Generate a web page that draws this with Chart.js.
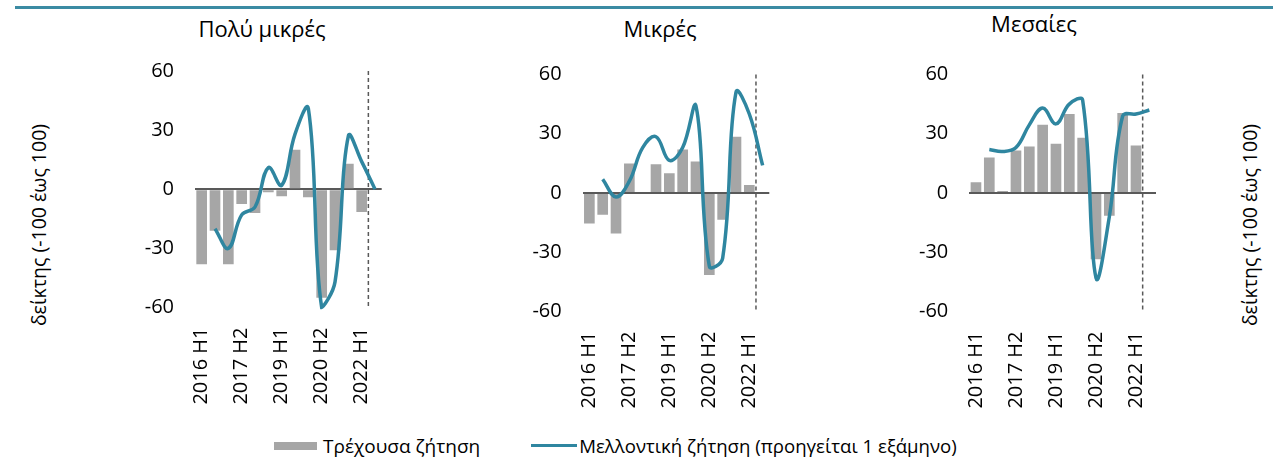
<!DOCTYPE html>
<html>
<head>
<meta charset="utf-8">
<script src="https://cdn.jsdelivr.net/npm/chart.js@4.4.1/dist/chart.umd.min.js"></script>
<style>
  body { margin: 0; width: 1273px; height: 459px; position: relative; overflow: hidden; background: #fff; font-family: "Open Sans", sans-serif; color: #000; }
  canvas { position: absolute; top: 0; }
  .rule { position: absolute; left: 15px; right: 0; top: 6px; height: 3px; background: #3b8ba3; }
  .title { position: absolute; font-size: 22px; line-height: 26px; white-space: nowrap; transform: translateX(-50%); }
  .ytitle { position: absolute; font-size: 19.5px; white-space: nowrap; transform: translate(-50%, -50%) rotate(-90deg); }
  .legend { position: absolute; top: 432px; left: 274px; font-size: 19px; line-height: 24px; white-space: nowrap; }
  .legend span { display: inline-block; vertical-align: middle; }
  .legend .t2 { font-size: 18.6px; }
  .box { width: 43px; height: 8px; background: #a6a6a6; margin-right: 6px; }
  .ln { width: 46px; height: 3px; background: #2f86a0; margin-left: 51px; margin-right: 2px; }
</style>
</head>
<body>
<div class="rule"></div>
<div class="title" style="left:262px; top:15px">Πολύ μικρές</div>
<div class="title" style="left:660px; top:15px">Μικρές</div>
<div class="title" style="left:1034px; top:10px">Μεσαίες</div>
<div class="ytitle" style="left:38px; top:225px">δείκτης (-100 έως 100)</div>
<div class="ytitle" style="left:1249px; top:225px">δείκτης (-100 έως 100)</div>
<canvas id="c1" width="280" height="420" style="left:120px"></canvas>
<canvas id="c2" width="280" height="420" style="left:505px"></canvas>
<canvas id="c3" width="280" height="420" style="left:892px"></canvas>
<div class="legend"><span class="box"></span><span>Τρέχουσα ζήτηση</span><span class="ln"></span><span class="t2">Μελλοντική ζήτηση (προηγείται 1 εξάμηνο)</span></div>
<script>
const categories = ['2016 H1', '2016 H2', '2017 H1', '2017 H2', '2018 H1', '2018 H2', '2019 H1',
  '2019 H2', '2020 H1', '2020 H2', '2021 H1', '2021 H2', '2022 H1', '2022 H2'];

// Πολύ μικρές
const verySmallCurrent = [-38, -21, -38, -7.5, -12, -1.5, -3.5, 20, -4, -55, -31, 13, -11.5, null];
const verySmallFuture = [null, -20, -30, -13, -9, 11, 2, 28, 41, -60, -47, 27, 14, 0];
// Μικρές
const smallCurrent = [-15.5, -11, -20.5, 15, 0, 14.5, 10, 22, 16, -41.5, -13.5, 28.5, 4, null];
const smallFuture = [null, 7, -2, 6, 23, 28.5, 16.5, 23, 44, -37, -33, 51, 40, 14];
// Μεσαίες
const mediumCurrent = [5.5, 18, 1, 21.5, 23.5, 34.5, 25, 40, 28, -33.5, -11.5, 40.5, 24, null];
const mediumFuture = [null, 22, 21, 23, 34.5, 43, 35, 45, 47, -43, -12, 39, 40, 42];

const yTicks = [-60, -30, 0, 30, 60];
const forecastIndex = 13; // dashed line before this half-year

const font = { family: '"Open Sans", sans-serif', size: 20 };

const forecastLine = {
  id: 'forecastLine',
  beforeDatasetsDraw(chart) {
    const { ctx, chartArea, scales: { x } } = chart;
    const px = (x.getPixelForValue(forecastIndex - 1) + x.getPixelForValue(forecastIndex)) / 2;
    ctx.save();
    ctx.strokeStyle = '#595959';
    ctx.lineWidth = 1.5;
    ctx.setLineDash([4, 3]);
    ctx.beginPath();
    ctx.moveTo(px, chartArea.top);
    ctx.lineTo(px, chartArea.bottom);
    ctx.stroke();
    ctx.restore();
  }
};

function makePanel(id, current, future, top, xHeight, yWidth, padRight) {
  new Chart(document.getElementById(id), {
    type: 'bar',
    data: {
      labels: categories,
      datasets: [{
        type: 'line',
        data: future,
        borderColor: '#2f86a0',
        borderWidth: 3.5,
        pointRadius: 0,
        tension: 0.4,
        clip: false,
        order: 0
      }, {
        data: current,
        backgroundColor: '#a6a6a6',
        barPercentage: 0.8,
        categoryPercentage: 1,
        order: 1
      }]
    },
    options: {
      responsive: false,
      animation: false,
      layout: { padding: { top: top, right: padRight, bottom: 0, left: 0 } },
      plugins: { legend: { display: false }, tooltip: { enabled: false } },
      scales: {
        x: {
          grid: { display: false },
          border: { display: false },
          ticks: {
            autoSkip: false, maxRotation: 90, minRotation: 90, padding: 12, color: '#000', font: font,
            callback: (v, i) => i % 3 === 0 ? categories[i] : ''
          },
          afterFit: s => { s.height = xHeight; s.paddingLeft = 0; s.paddingRight = 0; }
        },
        y: {
          min: yTicks[0],
          max: yTicks[yTicks.length - 1],
          ticks: { stepSize: 30, padding: 21, color: '#000', font: font },
          grid: {
            drawTicks: false,
            lineWidth: 2,
            color: c => c.tick.value === 0 ? '#595959' : 'rgba(0,0,0,0)'
          },
          border: { display: false },
          afterFit: s => { s.width = yWidth; s.paddingTop = 0; s.paddingBottom = 0; }
        }
      }
    },
    plugins: [forecastLine]
  });
}

makePanel('c1', verySmallCurrent, verySmallFuture, 71, 112.5, 75, 18.3);
makePanel('c2', smallCurrent, smallFuture, 74.5, 108.5, 77.7, 15.7);
makePanel('c3', mediumCurrent, mediumFuture, 74.5, 108.5, 77.3, 16);
</script>
</body>
</html>
